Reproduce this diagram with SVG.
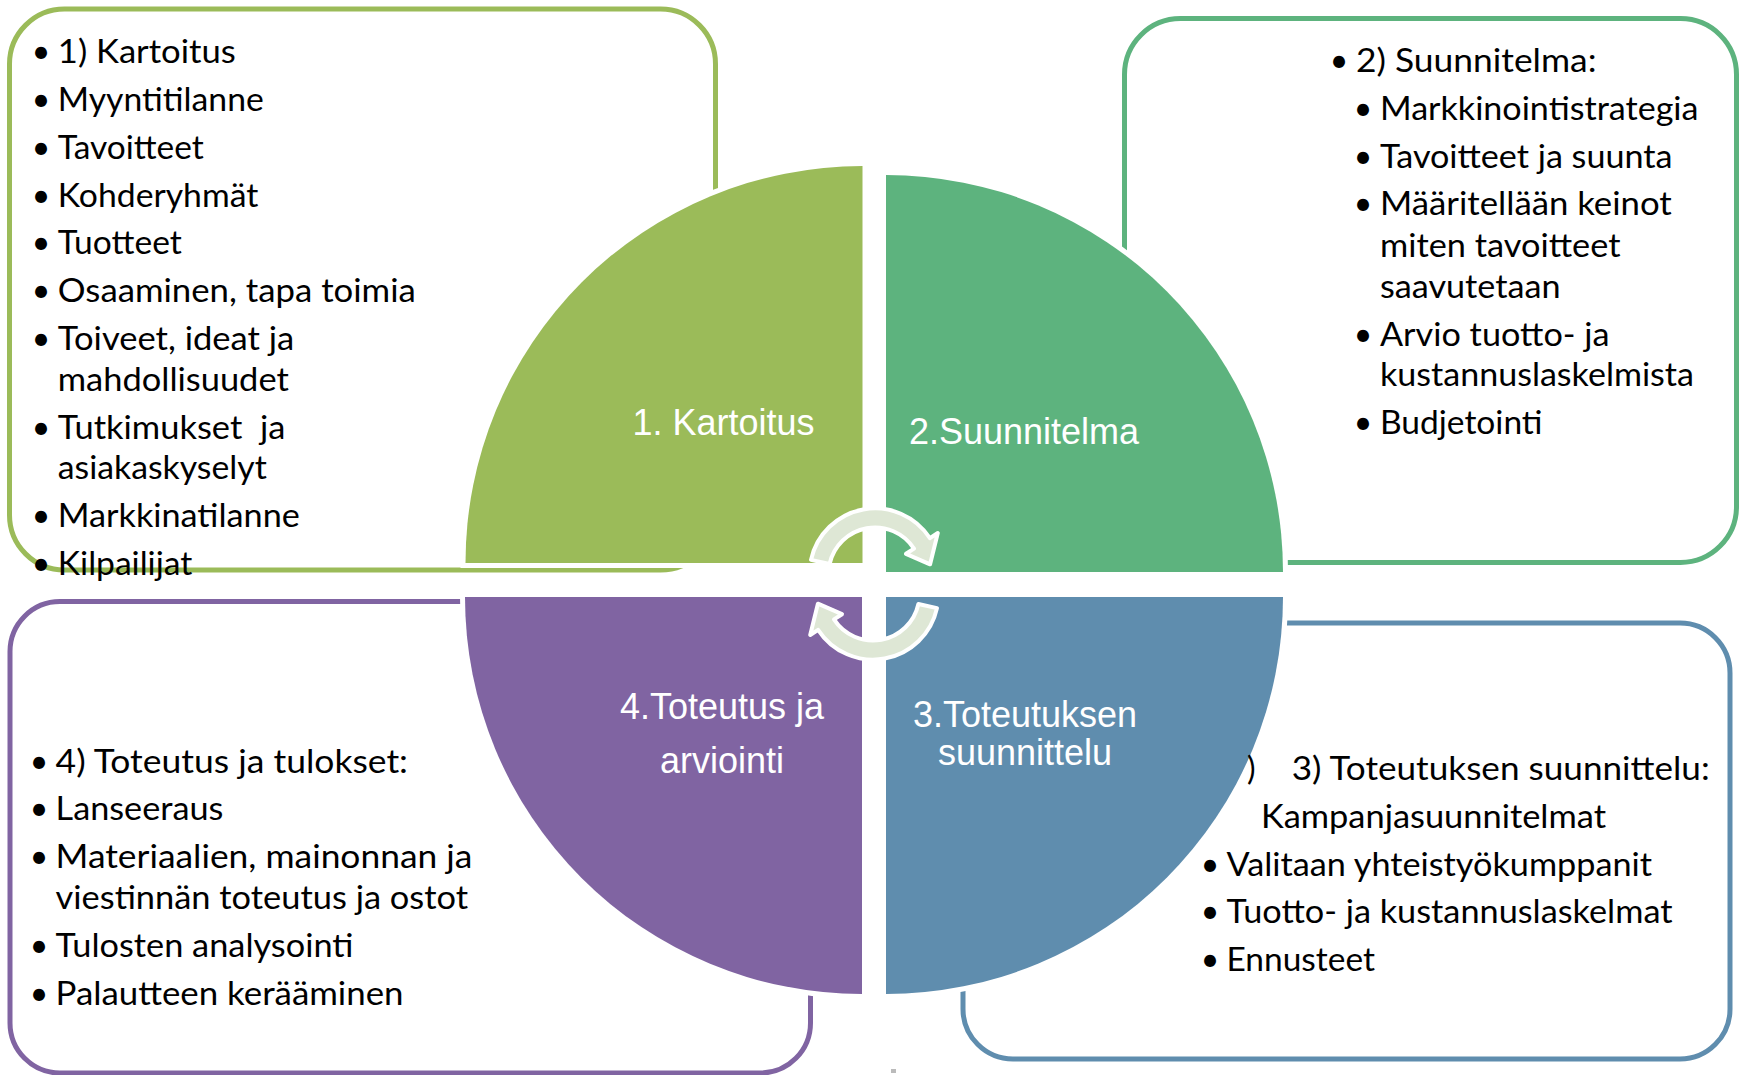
<svg xmlns="http://www.w3.org/2000/svg" width="1743" height="1075" viewBox="0 0 1743 1075">
<style>
.b{font-family:Lato,"Liberation Sans",sans-serif;font-size:32px;fill:#000}
.bu{font-family:Lato,"Liberation Sans",sans-serif;font-size:32px;fill:#000;text-anchor:middle}
.l{font-family:"Liberation Sans",Arial,sans-serif;font-size:36px;fill:#fff;text-anchor:middle}
.q{stroke:#fff;stroke-width:10;paint-order:stroke}
.box{fill:#fff;stroke-width:5}
.arr{fill:#DEE7D5;stroke:#fff;stroke-width:4;stroke-linejoin:round}
</style>
<rect width="1743" height="1075" fill="#fff"/>

<g id="box1">
<rect class="box" x="9.5" y="9" width="706" height="561" rx="55" stroke="#9BBB59"/>
<text class="bu" x="41" y="63.3">•</text><text class="b" x="57.8" y="63.3" textLength="178" lengthAdjust="spacingAndGlyphs">1) Kartoitus</text>
<text class="bu" x="41" y="111">•</text><text class="b" x="57.8" y="111" textLength="206" lengthAdjust="spacingAndGlyphs">Myyntitilanne</text>
<text class="bu" x="41" y="158.6">•</text><text class="b" x="57.8" y="158.6" textLength="146" lengthAdjust="spacingAndGlyphs">Tavoitteet</text>
<text class="bu" x="41" y="206.5">•</text><text class="b" x="57.8" y="206.5" textLength="200.5" lengthAdjust="spacingAndGlyphs">Kohderyhmät</text>
<text class="bu" x="41" y="254">•</text><text class="b" x="57.8" y="254" textLength="124" lengthAdjust="spacingAndGlyphs">Tuotteet</text>
<text class="bu" x="41" y="302">•</text><text class="b" x="57.8" y="302" textLength="358" lengthAdjust="spacingAndGlyphs">Osaaminen, tapa toimia</text>
<text class="bu" x="41" y="349.5">•</text><text class="b" x="57.8" y="349.5" textLength="236.5" lengthAdjust="spacingAndGlyphs">Toiveet, ideat ja</text>
<text class="b" x="57.8" y="390.5" textLength="231" lengthAdjust="spacingAndGlyphs">mahdollisuudet</text>
<text class="bu" x="41" y="438.5">•</text><text class="b" x="57.8" y="438.5" textLength="227.5" lengthAdjust="spacingAndGlyphs" xml:space="preserve">Tutkimukset  ja</text>
<text class="b" x="57.8" y="479" textLength="209" lengthAdjust="spacingAndGlyphs">asiakaskyselyt</text>
<text class="bu" x="41" y="527">•</text><text class="b" x="57.8" y="527" textLength="242" lengthAdjust="spacingAndGlyphs">Markkinatilanne</text>
<text class="bu" x="41" y="575">•</text><text class="b" x="57.8" y="575" textLength="134.5" lengthAdjust="spacingAndGlyphs">Kilpailijat</text>
</g>

<g id="box2">
<rect class="box" x="1124.5" y="18.5" width="612" height="544" rx="56" stroke="#5DB37E"/>
<text class="bu" x="1339" y="72">•</text><text class="b" x="1356" y="72" textLength="240.5" lengthAdjust="spacingAndGlyphs">2) Suunnitelma:</text>
<text class="bu" x="1363" y="120">•</text><text class="b" x="1380" y="120" textLength="318.5" lengthAdjust="spacingAndGlyphs">Markkinointistrategia</text>
<text class="bu" x="1363" y="167.5">•</text><text class="b" x="1380" y="167.5" textLength="292.5" lengthAdjust="spacingAndGlyphs">Tavoitteet ja suunta</text>
<text class="bu" x="1363" y="215">•</text><text class="b" x="1380" y="215" textLength="291.8" lengthAdjust="spacingAndGlyphs">Määritellään keinot</text>
<text class="b" x="1380" y="257" textLength="240.5" lengthAdjust="spacingAndGlyphs">miten tavoitteet</text>
<text class="b" x="1380" y="298" textLength="180.5" lengthAdjust="spacingAndGlyphs">saavutetaan</text>
<text class="bu" x="1363" y="346">•</text><text class="b" x="1380" y="346" textLength="229.5" lengthAdjust="spacingAndGlyphs">Arvio tuotto- ja</text>
<text class="b" x="1380" y="386" textLength="314" lengthAdjust="spacingAndGlyphs">kustannuslaskelmista</text>
<text class="bu" x="1363" y="434">•</text><text class="b" x="1380" y="434" textLength="162.5" lengthAdjust="spacingAndGlyphs">Budjetointi</text>
</g>

<g id="box4">
<rect class="box" x="10" y="601.5" width="800.5" height="471.5" rx="50" stroke="#8064A2"/>
<text class="bu" x="39" y="773">•</text><text class="b" x="55.6" y="773" textLength="352.4" lengthAdjust="spacingAndGlyphs">4) Toteutus ja tulokset:</text>
<text class="bu" x="39" y="820">•</text><text class="b" x="55.6" y="820" textLength="167.8" lengthAdjust="spacingAndGlyphs">Lanseeraus</text>
<text class="bu" x="39" y="868">•</text><text class="b" x="55.6" y="868" textLength="416.8" lengthAdjust="spacingAndGlyphs">Materiaalien, mainonnan ja</text>
<text class="b" x="55.6" y="909" textLength="412.4" lengthAdjust="spacingAndGlyphs">viestinnän toteutus ja ostot</text>
<text class="bu" x="39" y="957">•</text><text class="b" x="55.6" y="957" textLength="297.9" lengthAdjust="spacingAndGlyphs">Tulosten analysointi</text>
<text class="bu" x="39" y="1005">•</text><text class="b" x="55.6" y="1005" textLength="347.9" lengthAdjust="spacingAndGlyphs">Palautteen kerääminen</text>
</g>

<g id="box3">
<rect class="box" x="963" y="623" width="767" height="436" rx="50" stroke="#5F8DAE"/>
<text class="b" x="1291.7" y="780" textLength="418" lengthAdjust="spacingAndGlyphs">3) Toteutuksen suunnittelu:</text>
<text class="b" x="1261" y="827.5" textLength="345" lengthAdjust="spacingAndGlyphs">Kampanjasuunnitelmat</text>
<text class="bu" x="1210" y="875.5">•</text><text class="b" x="1226.5" y="875.5" textLength="425.5" lengthAdjust="spacingAndGlyphs">Valitaan yhteistyökumppanit</text>
<text class="bu" x="1210" y="923">•</text><text class="b" x="1226.5" y="923" textLength="446" lengthAdjust="spacingAndGlyphs">Tuotto- ja kustannuslaskelmat</text>
<text class="bu" x="1210" y="970.5">•</text><text class="b" x="1226.5" y="970.5" textLength="148.5" lengthAdjust="spacingAndGlyphs">Ennusteet</text>
</g>

<g id="q1">
<path class="q" d="M862.5 563 L465.5 563 A397 397 0 0 1 862.5 166 Z" fill="#9BBB59"/>
<text class="l" x="723.5" y="435">1. Kartoitus</text>
</g>
<g id="q2">
<path class="q" d="M886 572 L886 175 A397 397 0 0 1 1283 572 Z" fill="#5DB37E"/>
<text class="l" x="1024" y="444">2.Suunnitelma</text>
</g>
<g id="q3">
<path class="q" d="M886 597 L1283 597 A397 397 0 0 1 886 994 Z" fill="#5F8DAE"/>
<text class="l" x="1025" y="727">3.Toteutuksen</text>
<text class="l" x="1025" y="765">suunnittelu</text>
</g>
<g id="q4">
<path class="q" d="M862 597 L862 994 A397 397 0 0 1 465 597 Z" fill="#8064A2"/>
<text class="l" x="722" y="719">4.Toteutus ja</text>
<text class="l" x="722" y="773">arviointi</text>
</g>

<text class="b" x="1247" y="780">)</text>

<g id="connectors">
<path class="arr" d="M811 559.9 A65.5 65.5 0 0 1 929.9 538.2 L937.8 533 L930.1 564.3 L906 553.8 L914 548.6 A46.5 46.5 0 0 0 829.6 564 Z"/>
<path class="arr" d="M937 608.1 A65.5 65.5 0 0 1 818.1 629.8 L810.2 635 L817.9 603.7 L842 614.2 L834 619.4 A46.5 46.5 0 0 0 918.4 604 Z"/>
</g>
<rect x="891" y="1069" width="5" height="4" fill="#BBBBBB"/>
</svg>
